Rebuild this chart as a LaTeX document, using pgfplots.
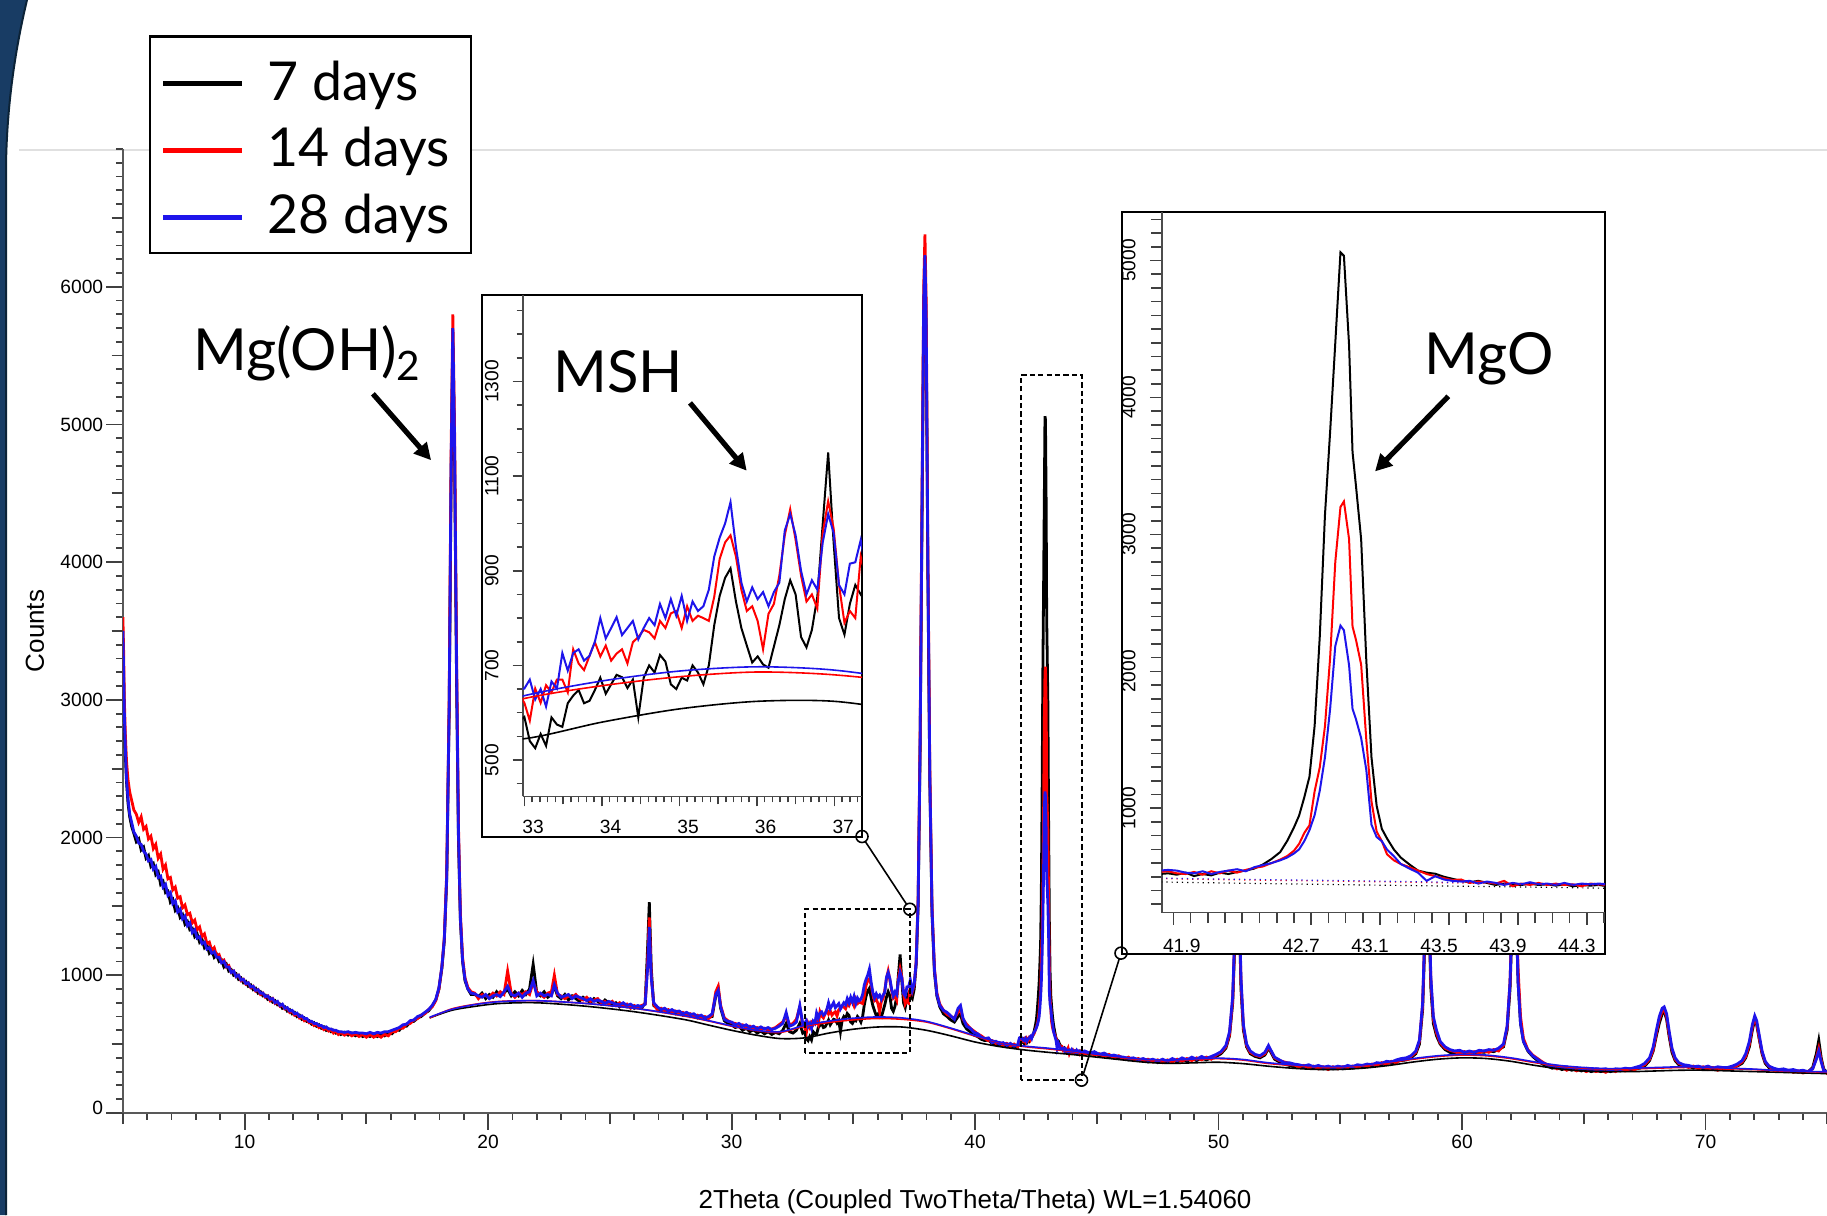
\documentclass[border=0pt]{standalone}
\usepackage{fontspec}
\setmainfont{Liberation Sans}
\newfontfamily\lato{Lato}
\usepackage{pgfplots}
\pgfplotsset{compat=1.18}
\usepackage{pgfplotstable}
\usetikzlibrary{arrows.meta}

\definecolor{rser}{RGB}{255,0,0}
\definecolor{bser}{RGB}{30,20,235}
\definecolor{navyfill}{RGB}{24,60,100}
\definecolor{navyedge}{RGB}{12,35,55}

% 2theta, 7 days (k), 14 days (r), 28 days (b)
\pgfplotstableread{
x k r b
5.00 3450 3600 3500
5.03 3150 3350 3200
5.06 2850 3000 2900
5.10 2600 2750 2650
5.15 2400 2550 2420
5.21 2250 2420 2280
5.28 2150 2330 2170
5.36 2080 2270 2110
5.45 2030 2200 2040
5.55 1970 2170 2010
5.65 1990 2110 1960
5.75 1910 2150 1950
5.85 1930 2060 1900
5.95 1850 2080 1880
6.05 1870 1990 1830
6.15 1790 2010 1840
6.25 1810 1920 1770
6.35 1730 1950 1790
6.45 1750 1850 1710
6.55 1660 1880 1720
6.65 1680 1770 1640
6.75 1600 1800 1660
6.85 1610 1700 1580
6.95 1530 1710 1600
7.05 1550 1620 1520
7.15 1470 1640 1540
7.25 1490 1560 1460
7.35 1420 1570 1480
7.45 1440 1490 1410
7.55 1370 1510 1430
7.65 1390 1440 1360
7.75 1330 1450 1380
7.85 1340 1380 1310
7.95 1280 1400 1330
8.05 1300 1330 1270
8.15 1240 1350 1280
8.25 1260 1280 1230
8.35 1200 1300 1240
8.45 1220 1230 1190
8.55 1160 1240 1200
8.65 1180 1180 1160
8.75 1130 1200 1170
8.85 1150 1140 1130
8.95 1100 1150 1130
9.05 1110 1100 1090
9.15 1060 1110 1100
9.25 1080 1060 1060
9.35 1030 1070 1060
9.45 1040 1020 1020
9.55 1000 1030 1030
9.65 1010 990 990
9.75 970 1000 1000
9.85 980 960 965
9.95 945 970 970
10.05 955 935 940
10.15 920 945 945
10.25 930 910 915
10.35 895 920 920
10.45 905 885 890
10.55 870 895 895
10.65 880 860 870
10.75 850 870 870
10.85 855 840 845
10.95 825 850 850
11.05 835 815 825
11.15 805 830 830
11.25 815 795 800
11.35 785 805 810
11.45 790 775 780
11.55 760 785 790
11.65 770 755 760
11.75 740 760 765
11.85 750 730 740
11.95 720 740 745
12.05 730 710 720
12.15 700 720 725
12.25 710 690 700
12.35 680 700 705
12.45 690 670 685
12.55 665 680 685
12.65 670 655 665
12.75 645 660 665
12.85 655 635 650
12.95 630 645 650
13.05 640 620 635
13.15 615 630 635
13.25 625 605 620
13.35 600 615 625
13.45 610 595 610
13.55 590 605 610
13.65 600 580 600
13.75 580 595 600
13.85 590 570 590
13.95 570 585 590
14.10 585 565 585
14.25 565 580 590
14.40 580 560 580
14.55 560 575 585
14.70 575 555 580
14.85 555 570 580
15.00 570 550 575
15.15 555 570 585
15.30 575 550 575
15.45 555 565 585
15.60 575 550 580
15.75 560 570 590
15.90 585 560 590
16.05 575 590 600
16.20 605 590 610
16.35 600 615 620
16.50 630 615 640
16.65 630 645 645
16.80 660 650 670
16.95 665 675 675
17.10 690 685 700
17.25 700 710 710
17.40 725 720 730
17.55 740 750 750
17.70 775 770 780
17.85 820 815 825
17.98 900 900 910
18.10 1050 1060 1060
18.20 1250 1270 1260
18.30 1700 1750 1720
18.40 2900 3000 2950
18.48 4600 4800 4700
18.55 5600 5800 5700
18.62 4800 5000 4900
18.70 3200 3400 3300
18.78 2000 2100 2050
18.86 1400 1450 1420
18.95 1100 1130 1110
19.05 960 980 970
19.17 900 910 900
19.30 860 880 870
19.45 860 870 865
19.60 845 830 850
19.75 870 860 840
19.90 830 850 860
20.05 860 840 830
20.20 840 870 850
20.35 880 850 860
20.50 850 880 845
20.65 870 860 880
20.80 900 1030 920
20.95 850 870 860
21.10 880 840 850
21.25 850 870 870
21.40 890 860 840
21.55 860 880 870
21.70 900 860 880
21.85 1080 950 960
22.00 870 880 850
22.15 850 860 870
22.30 880 840 850
22.45 840 870 860
22.60 860 880 850
22.72 920 1000 930
22.85 850 860 870
23.00 830 850 840
23.15 860 830 850
23.30 820 850 860
23.45 850 840 830
23.60 830 860 850
23.75 810 830 840
23.90 840 820 830
24.05 820 840 815
24.20 800 810 830
24.35 830 820 810
24.50 810 830 820
24.65 790 800 810
24.80 820 810 795
24.95 800 790 810
25.10 780 810 800
25.25 800 780 790
25.40 770 800 785
25.55 790 775 800
25.70 770 790 780
25.85 780 760 790
26.00 760 780 770
26.15 775 765 780
26.30 760 780 770
26.45 800 790 790
26.55 1200 1100 1050
26.62 1530 1420 1350
26.70 1050 1000 980
26.80 780 790 800
26.95 760 750 770
27.10 740 760 750
27.25 755 740 760
27.40 730 750 740
27.55 745 730 750
27.70 720 740 735
27.85 735 720 740
28.00 710 730 720
28.15 725 710 730
28.30 700 720 715
28.45 715 700 720
28.60 690 710 700
28.75 700 690 710
28.90 680 700 690
29.05 695 685 700
29.20 700 710 720
29.35 850 880 860
29.45 900 920 890
29.55 760 780 770
29.70 670 690 680
29.85 650 670 665
30.00 640 655 660
30.15 620 650 640
30.30 630 635 650
30.45 600 640 630
30.60 615 620 640
30.75 590 630 620
30.90 605 610 630
31.05 580 620 610
31.20 595 605 625
31.35 575 615 610
31.50 590 600 620
31.65 570 610 605
31.80 585 620 615
31.95 575 640 630
32.10 600 660 650
32.24 650 700 730
32.38 590 640 630
32.52 580 650 640
32.66 600 680 660
32.80 650 770 780
32.92 580 640 650
33.00 591 621 651
33.07 540 583 670
33.14 525 651 628
33.21 555 621 650
33.28 530 658 613
33.35 590 643 666
33.42 575 670 651
33.49 570 670 726
33.56 620 643 689
33.63 636 734 726
33.70 648 704 734
33.77 620 690 710
33.84 625 720 720
33.91 648 749 750
33.98 674 719 800
34.05 640 742 757
34.12 660 710 779
34.19 680 725 802
34.26 675 734 764
34.33 652 704 779
34.40 670 749 794
34.47 590 760 755
34.54 674 775 779
34.61 700 770 800
34.68 685 757 785
34.75 722 794 830
34.82 708 779 800
34.89 660 810 840
34.96 650 815 805
35.03 674 779 847
35.10 668 825 794
35.17 700 794 835
35.24 685 805 815
35.31 660 800 825
35.38 700 794 860
35.45 785 845 930
35.52 847 925 970
35.59 885 960 1000
35.66 905 975 1045
35.73 835 930 950
35.80 779 860 875
35.87 742 815 835
35.94 706 825 865
36.01 719 794 840
36.08 702 734 855
36.15 695 809 825
36.22 740 830 855
36.29 785 890 875
36.36 840 975 985
36.43 880 1030 1020
36.50 850 965 975
36.57 760 890 900
36.64 738 835 850
36.71 775 850 880
36.78 845 820 860
36.85 1000 980 960
36.92 1150 1047 1020
36.99 960 990 980
37.06 800 870 870
37.13 765 790 850
37.20 830 815 915
37.27 870 800 918
37.34 850 930 965
37.42 830 880 890
37.50 900 930 940
37.58 1080 1100 1090
37.66 1500 1560 1530
37.74 2600 2700 2650
37.82 4300 4500 4400
37.89 5800 6000 5900
37.94 6200 6380 6230
37.99 5700 5900 5750
38.06 3900 4100 4000
38.14 2400 2500 2450
38.23 1450 1500 1480
38.33 1020 1050 1040
38.43 850 870 860
38.55 770 790 780
38.70 720 745 745
38.85 700 715 730
39.00 675 700 705
39.15 660 690 680
39.30 700 730 760
39.40 720 760 780
39.50 650 680 690
39.65 610 645 630
39.80 590 615 615
39.95 565 595 585
40.10 555 575 575
40.25 535 560 550
40.40 525 540 540
40.55 530 525 545
40.70 505 525 510
40.85 500 505 520
41.00 490 510 500
41.15 500 490 510
41.30 480 505 490
41.45 490 485 505
41.60 475 500 485
41.75 485 480 495
41.82 520 535 545
41.87 525 540 550
41.92 515 525 545
41.97 530 520 530
42.02 505 535 525
42.07 520 515 540
42.12 510 540 520
42.17 530 525 535
42.22 520 545 545
42.27 535 530 555
42.32 545 550 540
42.37 560 565 570
42.42 590 575 585
42.47 630 600 600
42.52 680 625 620
42.56 760 650 640
42.60 860 690 670
42.63 947 740 700
42.66 1080 820 760
42.69 1230 876 840
42.72 1602 1124 950
42.75 2257 1300 1130
42.78 3142 1600 1372
42.81 3750 2100 1726
42.84 4400 2800 2186
42.87 5060 3200 2334
42.89 5035 3241 2300
42.92 4381 2965 2044
42.94 3602 2327 1726
42.96 3354 2230 1650
42.99 2965 2050 1513
43.02 2080 1500 1280
43.05 1372 1050 880
43.08 1018 830 790
43.11 850 760 760
43.14 780 664 699
43.18 699 620 650
43.22 640 593 593
43.27 590 570 560
43.32 545 545 530
43.37 530 520 470
43.42 522 504 504
43.47 500 490 480
43.52 485 475 470
43.57 470 480 465
43.62 460 455 470
43.67 470 465 450
43.72 455 460 465
43.77 440 450 455
43.82 450 470 440
43.87 445 430 455
43.92 440 450 445
43.97 450 440 460
44.02 440 455 445
44.07 445 440 450
44.12 435 450 440
44.17 445 440 455
44.22 430 445 440
44.27 440 430 450
44.32 435 450 445
44.37 440 445 450
44.42 430 440 445
44.50 440 430 450
44.70 425 440 435
44.90 430 420 445
45.10 415 430 425
45.30 420 410 435
45.50 405 425 415
45.70 410 400 420
45.90 395 415 410
46.10 400 390 405
46.30 385 405 395
46.50 395 380 400
46.70 380 395 385
46.90 390 375 395
47.10 370 390 380
47.30 385 370 390
47.50 365 385 375
47.70 380 365 390
47.90 370 385 375
48.10 385 370 395
48.30 370 390 380
48.50 390 375 400
48.70 375 395 385
48.90 395 380 405
49.10 380 400 390
49.30 400 385 410
49.50 385 405 395
49.70 400 390 410
49.90 410 420 425
50.10 430 440 445
50.30 470 480 490
50.45 560 570 590
50.58 800 820 850
50.68 1300 1350 1400
50.76 1900 1950 2000
50.84 1500 1550 1600
50.92 900 950 980
51.02 600 620 640
51.15 480 490 500
51.30 430 440 450
51.50 410 420 425
51.70 400 410 415
51.90 420 430 440
52.05 470 480 490
52.15 440 450 455
52.30 390 400 405
52.50 370 380 385
52.70 355 370 365
52.90 345 360 365
53.10 335 350 355
53.30 345 335 350
53.50 330 345 340
53.70 340 325 350
53.90 325 340 335
54.10 335 320 345
54.30 320 335 330
54.50 330 315 340
54.70 320 335 325
54.90 330 320 340
55.10 320 335 330
55.30 335 325 345
55.50 325 340 335
55.70 340 330 350
55.90 335 345 345
56.10 345 335 355
56.30 340 355 350
56.50 355 345 365
56.70 350 365 360
56.90 365 355 375
57.10 360 375 370
57.30 375 365 385
57.50 380 390 395
57.70 385 395 400
57.90 400 410 415
58.10 430 440 450
58.25 500 520 530
58.38 750 780 800
58.48 1300 1350 1380
58.56 1800 1850 1900
58.64 1400 1450 1500
58.72 900 950 980
58.82 650 680 700
58.95 560 580 600
59.10 500 510 520
59.30 460 470 480
59.50 440 455 460
59.70 430 445 450
59.90 440 430 455
60.10 425 445 440
60.30 440 430 450
60.50 430 445 440
60.70 445 435 455
60.90 440 450 450
61.10 450 440 460
61.30 445 460 455
61.50 460 450 470
61.70 480 490 500
61.85 600 620 630
61.97 900 950 950
62.06 1400 1500 1450
62.14 1800 1900 1800
62.22 1500 1600 1450
62.30 950 1050 950
62.40 650 700 650
62.52 520 540 520
62.70 450 460 455
62.90 410 420 415
63.10 380 395 390
63.30 355 370 365
63.50 340 350 350
63.70 325 340 335
63.90 330 320 340
64.10 315 330 325
64.30 325 310 335
64.50 310 325 320
64.70 320 305 330
64.90 305 320 315
65.10 315 300 325
65.30 300 315 310
65.50 310 300 320
65.70 300 310 315
65.90 310 295 320
66.10 300 315 310
66.30 310 300 320
66.50 305 315 315
66.70 315 305 325
66.90 310 320 320
67.10 320 315 330
67.30 325 335 340
67.50 340 350 360
67.70 380 390 400
67.85 450 460 480
67.98 560 580 600
68.10 650 680 700
68.22 720 740 760
68.30 740 750 770
68.40 680 700 720
68.50 560 580 600
68.62 440 460 470
68.75 380 390 400
68.90 350 360 365
69.10 335 345 350
69.30 340 330 345
69.50 325 340 335
69.70 335 320 340
69.90 320 335 330
70.10 330 315 340
70.30 315 330 325
70.50 325 310 335
70.70 315 325 330
70.90 320 315 330
71.10 330 320 340
71.30 340 345 355
71.50 360 370 380
71.65 400 410 430
71.80 480 500 520
71.92 600 620 640
72.02 680 690 705
72.10 640 650 670
72.20 540 550 570
72.32 430 440 450
72.45 360 370 375
72.60 330 340 340
72.80 320 310 325
73.00 305 315 315
73.20 315 300 320
73.40 300 310 310
73.60 310 295 315
73.80 295 305 305
74.00 300 290 310
74.20 295 300 300
74.40 330 320 320
74.55 430 400 390
74.65 527 470 450
74.75 400 380 370
74.85 320 310 310
75.00 290 285 295
75.10 285 290 290
}\xrd

% fitted backgrounds
\pgfplotstableread{
x k r b
17.6 690 690 695
18.5 745 755 752
19.5 775 790 788
20.5 795 810 808
22 800 815 815
24 775 795 795
26 735 760 760
28 680 705 708
29 640 670 672
30 600 630 633
31 565 598 600
32 540 585 590
33 545 630 636
34 580 657 667
35 608 676 688
36 624 686 697
37 624 680 690
38 600 660 665
39 560 612 616
40 515 558 562
41 482 512 515
42 458 482 486
43 440 465 470
44 424 446 450
45 405 422 426
46 386 402 406
47 368 386 390
48 360 380 384
49 364 388 392
50 368 394 398
51 358 384 388
52 340 360 365
53 325 345 350
54 316 336 340
55 316 335 338
56 326 345 350
57 345 365 370
58 370 390 395
59 390 410 415
60 400 420 425
61 395 415 420
62 375 395 400
63 345 365 370
64 320 340 345
65 305 325 330
66 300 318 322
67 300 320 325
68 305 325 330
69 310 330 335
70 310 330 332
71 305 322 325
72 300 315 318
73 295 305 308
74 290 300 302
75.1 285 295 298
}\bgr

\pgfplotsset{
  tickfont/.style={font=\fontsize{4.8}{5.2}\selectfont},
}

\begin{document}
\begin{tikzpicture}[x=0.25pt,y=0.25pt]
\useasboundingbox (0,0) rectangle (1827,1215);
\fill[white] (0,0) rectangle (1827,1215);
\draw[black!12, line width=0.5pt] (19,1065) -- (1827,1065);

% ---- main pattern
\begin{axis}[
  at={(30.725pt,25.525pt)}, anchor=south west,
  scale only axis, width=426.1pt, height=240.97pt,
  xmin=5, xmax=75, ymin=0, ymax=7000,
  clip mode=individual,
  axis x line*=bottom, axis y line*=left,
  axis line style={-, line width=0.5pt, black!65},
  tick align=outside, tick style={black!75, line width=0.45pt},
  major tick length=4.2pt, minor tick length=1.75pt,
  xtick={10,20,...,70}, xticklabels={10,20,30,40,50,60,70},
  minor xtick={5,...,75},
  ytick={0,1000,...,6000},
  yticklabels={\raisebox{2.7pt}{0},1000,2000,3000,4000,5000,6000},
  minor ytick={0,100,...,7000},
  extra x ticks={5,15,...,75}, extra x tick labels={},
  extra x tick style={major tick length=2.8pt},
  extra y ticks={500,1500,...,6500}, extra y tick labels={},
  extra y tick style={major tick length=2.8pt},
  xticklabel style={tickfont, yshift=2.3pt},
  yticklabel style={tickfont, xshift=2.8pt},
]
\addplot[black, line width=0.7pt] table[x=x,y=k]{\xrd};
\addplot[rser, line width=0.7pt] table[x=x,y=r]{\xrd};
\addplot[bser, line width=0.7pt] table[x=x,y=b]{\xrd};
\addplot[black, line width=0.4pt, smooth] table[x=x,y=k]{\bgr};
\addplot[rser, line width=0.4pt, smooth] table[x=x,y=r]{\bgr};
\addplot[bser, line width=0.4pt, smooth] table[x=x,y=b]{\bgr};
\draw[line width=0.5pt, dash pattern=on 1.3pt off 0.8pt] (axis cs:33.01,437) rectangle (axis cs:37.32,1479);
\draw[line width=0.5pt, dash pattern=on 1.3pt off 0.8pt] (axis cs:41.87,238) rectangle (axis cs:44.37,5357);
\coordinate (c1) at (axis cs:37.32,1479);
\coordinate (c2) at (axis cs:44.37,238);
\node[rotate=90, font=\fontsize{6.5}{7}\selectfont] at (rel axis cs:-0.0516,0.5) {Counts};
\node[font=\fontsize{6.5}{7}\selectfont] at (rel axis cs:0.5,-0.0917) {2Theta (Coupled TwoTheta/Theta) WL=1.54060};
\end{axis}

% ---- MSH inset
\filldraw[fill=white, draw=black, line width=0.5pt] (482,378.5) rectangle (862,920.5);
\begin{axis}[
  at={(130.675pt,104.65pt)}, anchor=south west,
  scale only axis, width=84.825pt, height=125.475pt,
  xmin=32.979, xmax=37.357, ymin=423, ymax=1484,
  axis x line*=bottom, axis y line*=left,
  axis line style={-, line width=0.4pt, black!70},
  tick align=outside, tick style={black!75, line width=0.4pt},
  major tick length=2.5pt, minor tick length=1.5pt,
  xtick={33,34,35,36,37}, xticklabels={33,34,35,36,37},
  minor xtick={33,33.1,...,37.35},
  extra x ticks={33.5,34.5,35.5,36.5}, extra x tick labels={},
  extra x tick style={major tick length=2pt},
  ytick={500,700,900,1100,1300}, yticklabels={500,700,900,1100,1300},
  minor ytick={450,500,...,1450},
  xticklabel style={tickfont, xshift=2.2pt},
  yticklabel style={tickfont, rotate=90, anchor=south},
]
\addplot[black, line width=0.5pt] table[x=x,y=k]{\xrd};
\addplot[rser, line width=0.5pt] table[x=x,y=r]{\xrd};
\addplot[bser, line width=0.5pt] table[x=x,y=b]{\xrd};
\addplot[black, line width=0.4pt, smooth] table[x=x,y=k]{\bgr};
\addplot[rser, line width=0.4pt, smooth] table[x=x,y=r]{\bgr};
\addplot[bser, line width=0.4pt, smooth] table[x=x,y=b]{\bgr};
\end{axis}

% ---- MgO inset
\filldraw[fill=white, draw=black, line width=0.5pt] (1122.3,261.2) rectangle (1605,1002.9);
\begin{axis}[
  at={(290.425pt,75.6pt)}, anchor=south west,
  scale only axis, width=110.825pt, height=175.125pt,
  xmin=41.833, xmax=44.406, ymin=238, ymax=5354,
  axis x line*=bottom, axis y line*=left,
  axis line style={-, line width=0.4pt, black!70},
  tick align=outside, tick style={black!75, line width=0.4pt},
  major tick length=3pt, minor tick length=2.6pt,
  xtick={42.7,43.1,43.5,43.9,44.3}, xticklabels={42.7,43.1,43.5,43.9,44.3},
  minor xtick={41.9,42.0,...,44.4},
  extra x ticks={41.9}, extra x tick labels={41.9},
  extra x tick style={xticklabel style={xshift=4.6pt}},
  ytick={1000,2000,3000,4000,5000}, yticklabels={1000,2000,3000,4000,5000},
  minor ytick={300,400,...,5300},
  xticklabel style={tickfont, xshift=-2.5pt},
  yticklabel style={tickfont, rotate=90, anchor=south},
]
\addplot[black, line width=0.5pt] table[x=x,y=k]{\xrd};
\addplot[rser, line width=0.5pt] table[x=x,y=r]{\xrd};
\addplot[bser, line width=0.5pt] table[x=x,y=b]{\xrd};
\addplot[black, line width=0.3pt, densely dotted] table[x=x,y=k]{\bgr};
\addplot[rser, line width=0.3pt, densely dotted] table[x=x,y=r]{\bgr};
\addplot[bser, line width=0.3pt, densely dotted] table[x=x,y=b]{\bgr};
\end{axis}

% ---- connectors
\draw[line width=0.4pt, shorten <=1.5pt, shorten >=1.5pt] (c1) -- (862,378.5);
\draw[line width=0.4pt] (c1) circle[radius=6];
\draw[line width=0.4pt] (862,378.5) circle[radius=6];
\draw[line width=0.4pt, shorten <=1.5pt, shorten >=1.5pt] (c2) -- (1121,261.9);
\draw[line width=0.4pt] (c2) circle[radius=6];
\draw[line width=0.4pt] (1121,261.9) circle[radius=6];

% ---- legend
\filldraw[fill=white, draw=black, line width=0.7pt] (150,962) rectangle (471,1178.3);
\draw[black, line width=1.3pt] (163,1131.7) -- (242,1131.7);
\draw[rser, line width=1.3pt] (163,1064.3) -- (242,1064.3);
\draw[bser, line width=1.3pt] (163,997.7) -- (242,997.7);
\node[anchor=base west, inner sep=0pt] at (267,1115) {\lato\fontsize{13.4}{16}\selectfont 7 days};
\node[anchor=base west, inner sep=0pt] at (267,1048.3) {\lato\fontsize{13.4}{16}\selectfont 14 days};
\node[anchor=base west, inner sep=0pt] at (267,981.7) {\lato\fontsize{13.4}{16}\selectfont 28 days};

% ---- annotations
\node[anchor=base, inner sep=0pt] at (308,844.5) {\lato\fontsize{14.5}{17}\selectfont Mg(OH)\textsubscript{2}};
\draw[line width=1.3pt, -{Triangle[length=4.2pt,width=4.2pt]}] (372.9,821.2) -- (431.1,754.8);
\node[anchor=base, inner sep=0pt] at (618.3,822.9) {\lato\fontsize{14.5}{17}\selectfont MSH};
\draw[line width=1.3pt, -{Triangle[length=4.2pt,width=4.2pt]}] (690,812.1) -- (746.7,744.3);
\node[anchor=base, inner sep=0pt] at (1489,840.5) {\lato\fontsize{14.5}{17}\selectfont MgO};
\draw[line width=1.3pt, -{Triangle[length=4.2pt,width=4.2pt]}] (1448.3,818.7) -- (1375,743.6);

% ---- slide edge
\fill[navyfill] (0,1215) -- (27,1215) .. controls (15,1165) and (7,1110) .. (6,1050) -- (6,0) -- (0,0) -- cycle;
\draw[navyedge, line width=0.5pt] (27,1215) .. controls (15,1165) and (7,1110) .. (6,1050) -- (6,0);
\end{tikzpicture}
\end{document}
